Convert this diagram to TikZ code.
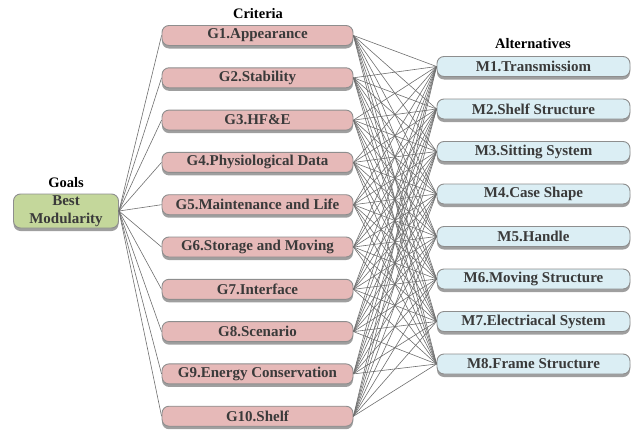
\documentclass[tikz,border=0pt]{standalone}
\usepackage{fontspec}
\setmainfont{Liberation Serif}
\usetikzlibrary{shadows}
\definecolor{gfill}{HTML}{E6B9B8}
\definecolor{mfill}{HTML}{DBEEF4}
\definecolor{goalfill}{HTML}{C4D79B}
\definecolor{bord}{HTML}{8E8E8E}
\definecolor{txt}{HTML}{3A3A3A}
\definecolor{conn}{HTML}{6E6E6E}
\tikzset{
  box/.style={draw=bord, line width=0.9pt, rounded corners=7pt, minimum height=20pt,
    inner sep=0pt, text=txt, font=\fontsize{15}{16}\selectfont\bfseries,
    drop shadow={shadow xshift=0pt, shadow yshift=-3pt, fill=gray!75, opacity=1}},
  gbox/.style={box, fill=gfill, minimum width=191pt},
  mbox/.style={box, fill=mfill, minimum width=193pt},
  goalbox/.style={box, fill=goalfill, minimum width=105pt, minimum height=34pt, align=center,
    font=\fontsize{15}{17.5}\selectfont\bfseries},
  head/.style={font=\fontsize{14.5}{15}\selectfont\bfseries, text=black, inner sep=0pt},
  link/.style={draw=conn, line width=0.6pt}
}
\begin{document}
\begin{tikzpicture}[x=1pt,y=1pt]
\useasboundingbox (0,0) rectangle (634,-439);
\node[goalbox] (goal) at (66,-211) {Best\\Modularity};
\node[head] (goalhead) at (66,-183) {Goals};
\node[head] (crithead) at (258,-14) {Criteria};
\node[head] (althead) at (533,-44) {Alternatives};
\foreach \i/\t in {1/G1.Appearance,2/G2.Stability,3/G3.HF\&E,4/G4.Physiological Data,
  5/G5.Maintenance and Life,6/G6.Storage and Moving,7/G7.Interface,8/G8.Scenario,
  9/G9.Energy Conservation,10/G10.Shelf}{
  \node[gbox] (g\i) at (257.5,{-35.5-(\i-1)*42.3}) {\t};
}
\foreach \j/\t in {1/M1.Transmissiom,2/M2.Shelf Structure,3/M3.Sitting System,4/M4.Case Shape,
  5/M5.Handle,6/M6.Moving Structure,7/M7.Electriacal System,8/M8.Frame Structure}{
  \node[mbox] (m\j) at (533.5,{-66.5-(\j-1)*42.5}) {\t};
}
\foreach \i in {1,...,10}{
  \draw[link] (goal.east) -- (g\i.west);
  \foreach \j in {1,...,8}{
    \draw[link] (g\i.east) -- (m\j.west);
  }
}
\end{tikzpicture}
\end{document}
